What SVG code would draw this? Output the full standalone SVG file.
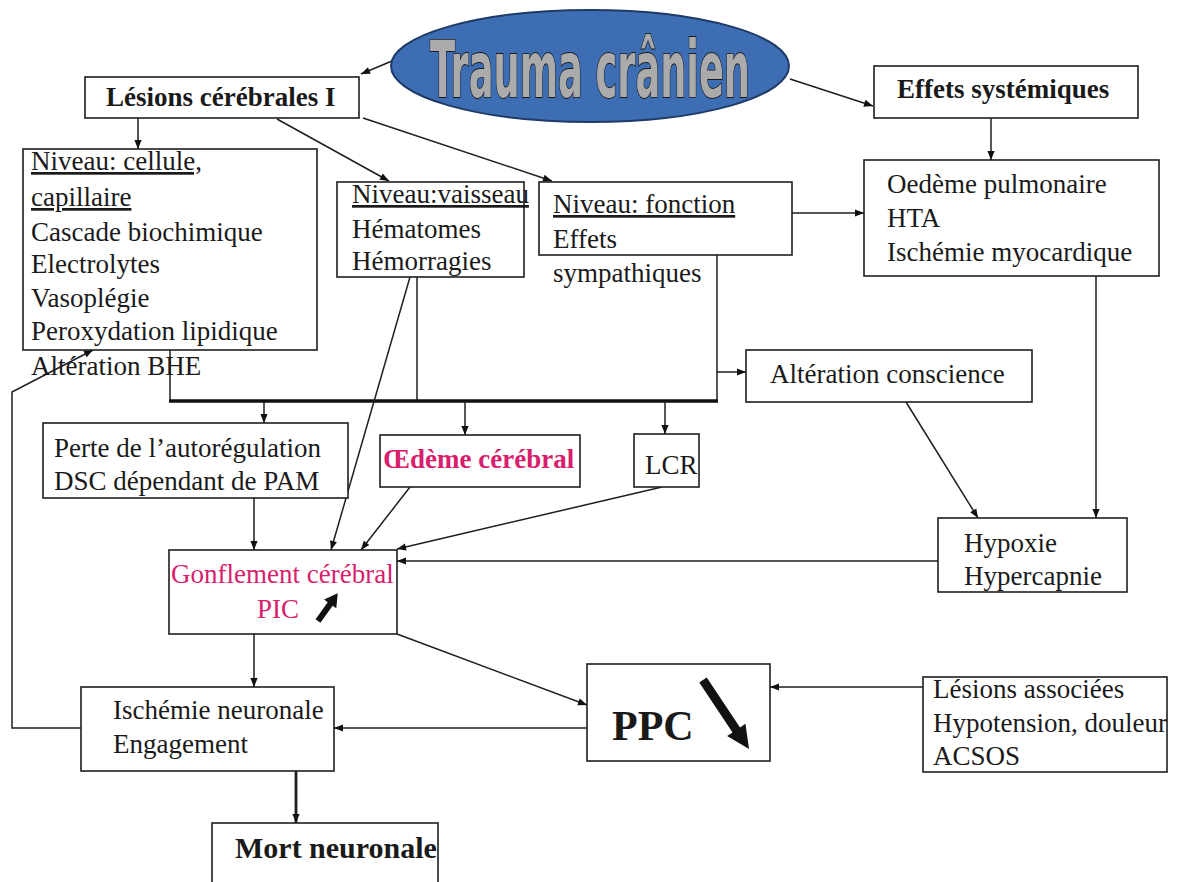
<svg xmlns="http://www.w3.org/2000/svg" width="1181" height="882" viewBox="0 0 1181 882">
  <style>
    .box { fill: #ffffff; stroke: #1e1e1e; stroke-width: 1.6; }
    .t { font-family: "Liberation Serif", "Times New Roman", serif; font-size: 27px; fill: #1a1a1a; }
    .b { font-weight: bold; }
    .u { text-decoration: underline; }
    .pink { fill: #d81e6c; }
    .big { font-size: 42px; }
    .mid { font-size: 30px; }
    .ln { fill: none; stroke: #1e1e1e; stroke-width: 1.5; }
    .arr { marker-end: url(#ah); }
    .bus { fill: none; stroke: #111111; stroke-width: 3.5; }
    .thick { stroke-width: 2.8; }
    .wl { font-family: "Liberation Sans Narrow", "DejaVu Sans Condensed", "DejaVu Sans", sans-serif; font-weight: bold; fill: #ababab; stroke: #1b1b1b; stroke-width: 1.8; paint-order: stroke; }
  </style>
  <defs>
    <marker id="ah" viewBox="0 0 10 10" refX="10" refY="5" markerWidth="10" markerHeight="9" markerUnits="userSpaceOnUse" orient="auto">
      <path d="M0,1 L10,5 L0,9 z" fill="#111111"/>
    </marker>
  </defs>
  <rect width="1181" height="882" fill="#ffffff"/>

  <!-- connectors -->
  <g id="connectors">
    <line class="ln arr" x1="392" y1="61" x2="361" y2="74"/>
    <line class="ln arr" x1="790" y1="79" x2="873" y2="106"/>
    <line class="ln arr" x1="138" y1="118" x2="138" y2="149"/>
    <line class="ln arr" x1="277" y1="119" x2="389" y2="181"/>
    <line class="ln arr" x1="363" y1="118" x2="552" y2="181"/>
    <line class="ln arr" x1="991" y1="118" x2="991" y2="160"/>
    <line class="ln arr" x1="792" y1="213" x2="864" y2="213"/>
    <line class="ln arr" x1="1096" y1="276" x2="1096" y2="518"/>
    <line class="ln arr" x1="906" y1="402" x2="978" y2="518"/>
    <line class="ln arr" x1="938" y1="561" x2="397" y2="561"/>
    <!-- collector bus under the three levels -->
    <line class="ln" x1="170" y1="350" x2="170" y2="401"/>
    <line class="ln" x1="417" y1="277" x2="417" y2="401"/>
    <line class="ln" x1="717" y1="235" x2="717" y2="401"/>
    <line class="bus" x1="169" y1="401" x2="718" y2="401"/>
    <line class="ln arr" x1="717" y1="372" x2="746" y2="372"/>
    <line class="ln arr" x1="264" y1="402" x2="264" y2="423"/>
    <line class="ln arr" x1="465" y1="402" x2="465" y2="435"/>
    <line class="ln arr" x1="665" y1="402" x2="665" y2="434"/>
    <!-- into brain swelling -->
    <line class="ln arr" x1="410" y1="277" x2="331" y2="550"/>
    <line class="ln arr" x1="410" y1="487" x2="361" y2="550"/>
    <line class="ln arr" x1="662" y1="487" x2="397" y2="549"/>
    <line class="ln arr" x1="254" y1="498" x2="254" y2="550"/>
    <line class="ln arr" x1="254" y1="634" x2="254" y2="687"/>
    <line class="ln arr" x1="397" y1="634" x2="587" y2="705"/>
    <line class="ln arr" x1="923" y1="687" x2="770" y2="687"/>
    <line class="ln arr" x1="587" y1="728" x2="334" y2="728"/>
    <line class="ln arr thick" x1="296" y1="771" x2="296" y2="823"/>
    <path class="ln arr" d="M81,728 H12 V392 L93,350"/>
  </g>

  <g id="trauma">
    <ellipse cx="590" cy="66" rx="199" ry="56" fill="#3d6db3" stroke="#1f3a66" stroke-width="2"/>
    <text class="wl" x="430" y="97" font-size="78" textLength="320" lengthAdjust="spacingAndGlyphs">Trauma crânien</text>
  </g>

  <g id="lesions-cerebrales">
    <rect class="box" x="85" y="77" width="274" height="41"/>
    <text class="t b" x="106" y="106">Lésions cérébrales I</text>
  </g>

  <g id="effets-systemiques">
    <rect class="box" x="874" y="66" width="264" height="52"/>
    <text class="t b" x="897" y="98">Effets systémiques</text>
  </g>

  <g id="niveau-cellule">
    <rect class="box" x="23" y="149" width="294" height="201"/>
    <text class="t u" x="31" y="170">Niveau: cellule,</text>
    <text class="t u" x="31" y="206">capillaire</text>
    <text class="t" x="31" y="241">Cascade biochimique</text>
    <text class="t" x="31" y="273">Electrolytes</text>
    <text class="t" x="31" y="307">Vasoplégie</text>
    <text class="t" x="31" y="340">Peroxydation lipidique</text>
    <text class="t" x="31" y="375">Altération BHE</text>
  </g>

  <g id="niveau-vaisseau">
    <rect class="box" x="337" y="182" width="187" height="95"/>
    <text class="t u" x="352" y="203">Niveau:vaisseau</text>
    <text class="t" x="352" y="238">Hématomes</text>
    <text class="t" x="352" y="270">Hémorragies</text>
  </g>

  <g id="niveau-fonction">
    <rect class="box" x="539" y="182" width="253" height="73"/>
    <text class="t u" x="553" y="213">Niveau: fonction</text>
    <text class="t" x="553" y="248">Effets</text>
    <text class="t" x="553" y="282">sympathiques</text>
  </g>

  <g id="oedeme-pulmonaire">
    <rect class="box" x="864" y="160" width="295" height="116"/>
    <text class="t" x="887" y="193">Oedème pulmonaire</text>
    <text class="t" x="887" y="227">HTA</text>
    <text class="t" x="887" y="261">Ischémie myocardique</text>
  </g>

  <g id="alteration-conscience">
    <rect class="box" x="746" y="350" width="286" height="52"/>
    <text class="t" x="770" y="383">Altération conscience</text>
  </g>

  <g id="perte-autoregulation">
    <rect class="box" x="43" y="423" width="305" height="75"/>
    <text class="t" x="54" y="457">Perte de l’autorégulation</text>
    <text class="t" x="54" y="490">DSC dépendant de PAM</text>
  </g>

  <g id="oedeme-cerebral">
    <rect class="box" x="380" y="435" width="200" height="52"/>
    <text class="t b pink" x="383" y="468">Œdème cérébral</text>
  </g>

  <g id="lcr">
    <rect class="box" x="634" y="434" width="65" height="53"/>
    <text class="t" x="645" y="474">LCR</text>
  </g>

  <g id="hypoxie">
    <rect class="box" x="938" y="518" width="189" height="74"/>
    <text class="t" x="964" y="552">Hypoxie</text>
    <text class="t" x="964" y="585">Hypercapnie</text>
  </g>

  <g id="gonflement">
    <rect class="box" x="169" y="550" width="228" height="84"/>
    <text class="t pink" x="171" y="583">Gonflement cérébral</text>
    <text class="t pink" x="257" y="618">PIC</text>
    <polygon points="0,-3 21,-3 21,-7.5 34,0 21,7.5 21,3 0,3" fill="#111111" transform="translate(318,621) rotate(-54.5)"/>
  </g>

  <g id="ppc">
    <rect class="box" x="587" y="664" width="183" height="97"/>
    <text class="t b big" x="612" y="740">PPC</text>
    <polygon points="0,-4.5 60,-4.5 60,-11 83,0 60,11 60,4.5 0,4.5" fill="#111111" transform="translate(703,680) rotate(56.3)"/>
  </g>

  <g id="lesions-associees">
    <rect class="box" x="923" y="677" width="244" height="95"/>
    <text class="t" x="933" y="698">Lésions associées</text>
    <text class="t" x="933" y="732">Hypotension, douleur</text>
    <text class="t" x="933" y="765">ACSOS</text>
  </g>

  <g id="ischemie">
    <rect class="box" x="81" y="687" width="253" height="84"/>
    <text class="t" x="113" y="719">Ischémie neuronale</text>
    <text class="t" x="113" y="753">Engagement</text>
  </g>

  <g id="mort-neuronale">
    <rect class="box" x="212" y="823" width="226" height="70"/>
    <text class="t b mid" x="235" y="858">Mort neuronale</text>
  </g>
</svg>
